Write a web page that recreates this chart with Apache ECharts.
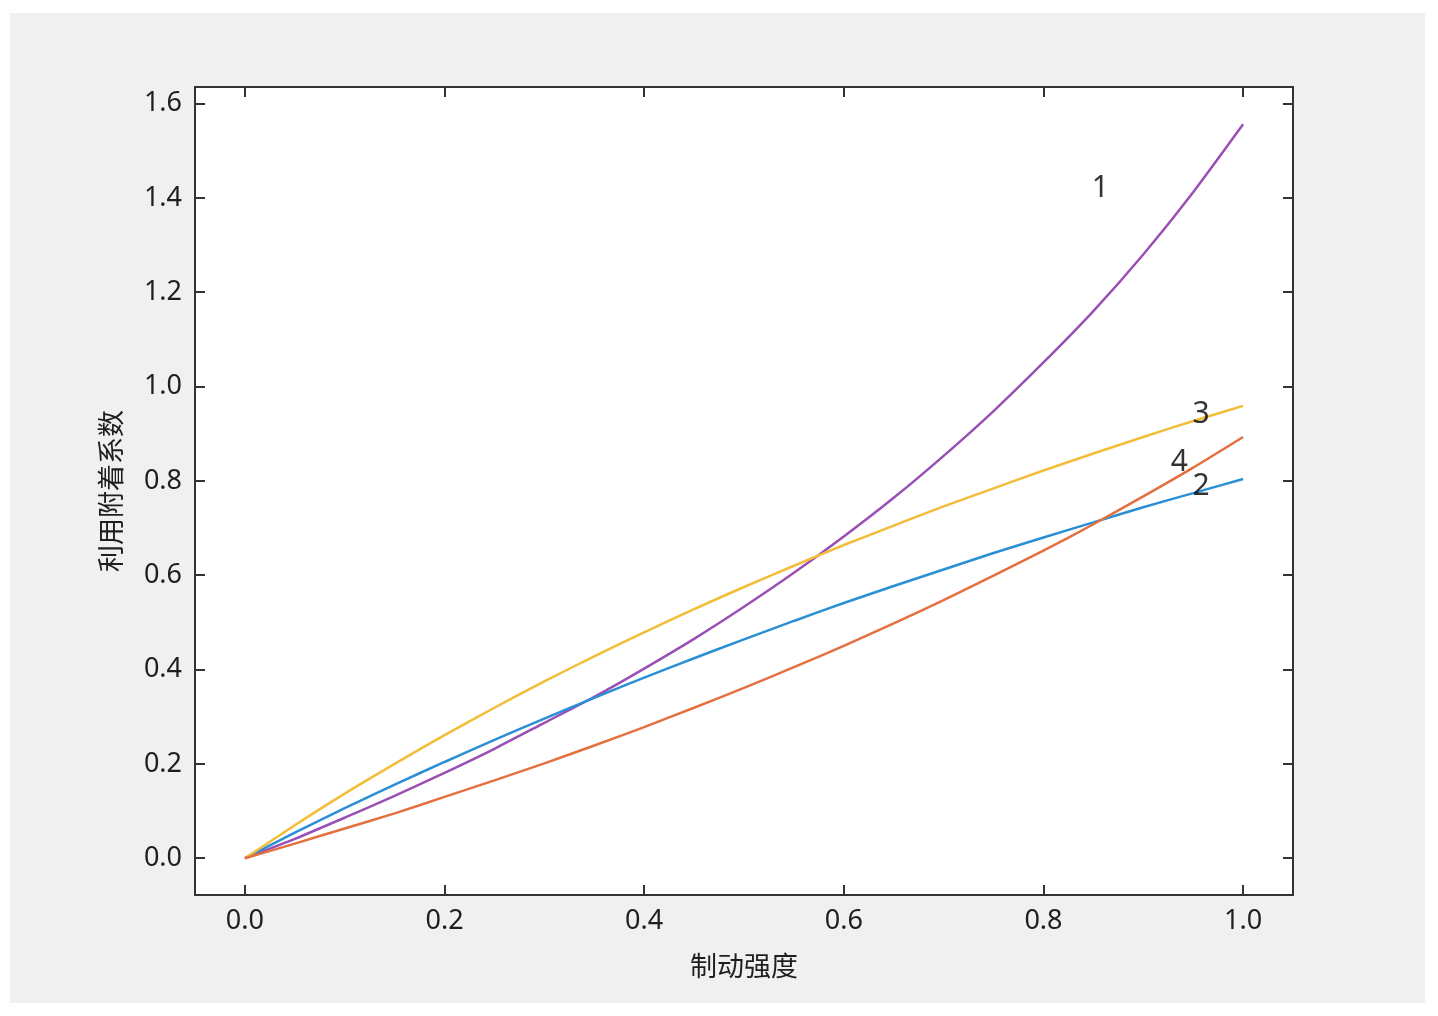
<!DOCTYPE html>
<html>
<head>
<meta charset="utf-8">
<script src="https://cdn.jsdelivr.net/npm/echarts@6/dist/echarts.min.js"></script>
<style>
  html, body { margin: 0; padding: 0; background: #fff; }
  #chart {
    position: absolute;
    left: 10px;
    top: 13px;
    width: 1415px;
    height: 990px;
    background: #f0f0f0;
  }
</style>
</head>
<body>
<div id="chart"></div>
<script>
// 制动强度 z
const zValues = [0, 0.05, 0.1, 0.15, 0.2, 0.25, 0.3, 0.35, 0.4, 0.45, 0.5,
  0.55, 0.6, 0.65, 0.7, 0.75, 0.8, 0.85, 0.9, 0.95, 1.0];

// 利用附着系数
const curve1 = [0, 0.041, 0.086, 0.132, 0.181, 0.232, 0.287, 0.342, 0.402, 0.465, 0.533,
  0.605, 0.682, 0.764, 0.853, 0.948, 1.051, 1.160, 1.280, 1.412, 1.556];
const curve2 = [0, 0.054, 0.106, 0.156, 0.204, 0.251, 0.296, 0.340, 0.383, 0.424, 0.464,
  0.503, 0.541, 0.577, 0.612, 0.647, 0.680, 0.712, 0.744, 0.774, 0.804];
const curve3 = [0, 0.070, 0.137, 0.200, 0.261, 0.319, 0.375, 0.428, 0.479, 0.528, 0.575,
  0.620, 0.664, 0.705, 0.746, 0.784, 0.822, 0.858, 0.893, 0.927, 0.959];
const curve4 = [0, 0.031, 0.063, 0.095, 0.130, 0.165, 0.201, 0.239, 0.278, 0.319, 0.361,
  0.405, 0.450, 0.498, 0.547, 0.599, 0.652, 0.708, 0.767, 0.828, 0.893];

// curve number labels: [x, y, text]
const curveLabels = [
  [0.857, 1.420, '1'],
  [0.958, 0.789, '2'],
  [0.958, 0.940, '3'],
  [0.936, 0.840, '4']
];

const xTicks = [0, 0.2, 0.4, 0.6, 0.8, 1.0];
const yTicks = [0, 0.2, 0.4, 0.6, 0.8, 1.0, 1.2, 1.4, 1.6];

const colors = ['#9a4fb4', '#2b8fd6', '#f2bd38', '#e4703f'];
const fontFamily = '"Noto Sans", "Noto Sans CJK SC", sans-serif';
const frameColor = '#333';
const textColor = '#1e1e1e';

function pairs(ys) {
  return zValues.map((z, i) => [z, ys[i]]);
}

function frameAxis(position, min, max, ticks, showLabel) {
  return {
    type: 'value',
    position,
    min,
    max,
    splitLine: { show: false },
    axisLine: { show: true, onZero: false, lineStyle: { color: frameColor, width: 2 } },
    axisTick: {
      show: true,
      inside: true,
      length: 10,
      customValues: ticks,
      lineStyle: { color: frameColor, width: 2 }
    },
    axisLabel: {
      show: showLabel,
      customValues: ticks,
      formatter: v => v.toFixed(1),
      color: textColor,
      fontSize: 27,
      fontFamily,
      margin: 13
    }
  };
}

const chart = echarts.init(document.getElementById('chart'));

const lineSeries = [curve1, curve2, curve3, curve4].map((ys, i) => ({
  name: String(i + 1),
  type: 'line',
  data: pairs(ys),
  showSymbol: false,
  smooth: 0.2,
  lineStyle: { color: colors[i], width: 2.5 },
  animation: false
}));

const option = {
  animation: false,
  grid: {
    left: 185,
    top: 74,
    width: 1098,
    height: 808,
    show: true,
    backgroundColor: '#fff',
    borderWidth: 0
  },
  xAxis: [
    Object.assign(frameAxis('bottom', -0.05, 1.05, xTicks, true), {
      name: '制动强度',
      nameLocation: 'middle',
      nameGap: 60,
      nameTextStyle: { color: textColor, fontSize: 27, fontFamily }
    }),
    frameAxis('top', -0.05, 1.05, xTicks, false)
  ],
  yAxis: [
    Object.assign(frameAxis('left', -0.078, 1.635, yTicks, true), {
      name: '利用附着系数',
      nameLocation: 'middle',
      nameGap: 68,
      nameTextStyle: { color: textColor, fontSize: 27, fontFamily }
    }),
    frameAxis('right', -0.078, 1.635, yTicks, false)
  ],
  series: lineSeries.concat([{
    type: 'scatter',
    data: curveLabels,
    symbolSize: 0,
    silent: true,
    label: {
      show: true,
      position: 'inside',
      formatter: p => p.data[2],
      color: '#000',
      fontSize: 30,
      fontFamily
    },
    z: 5
  }])
};

chart.setOption(option);
</script>
</body>
</html>
